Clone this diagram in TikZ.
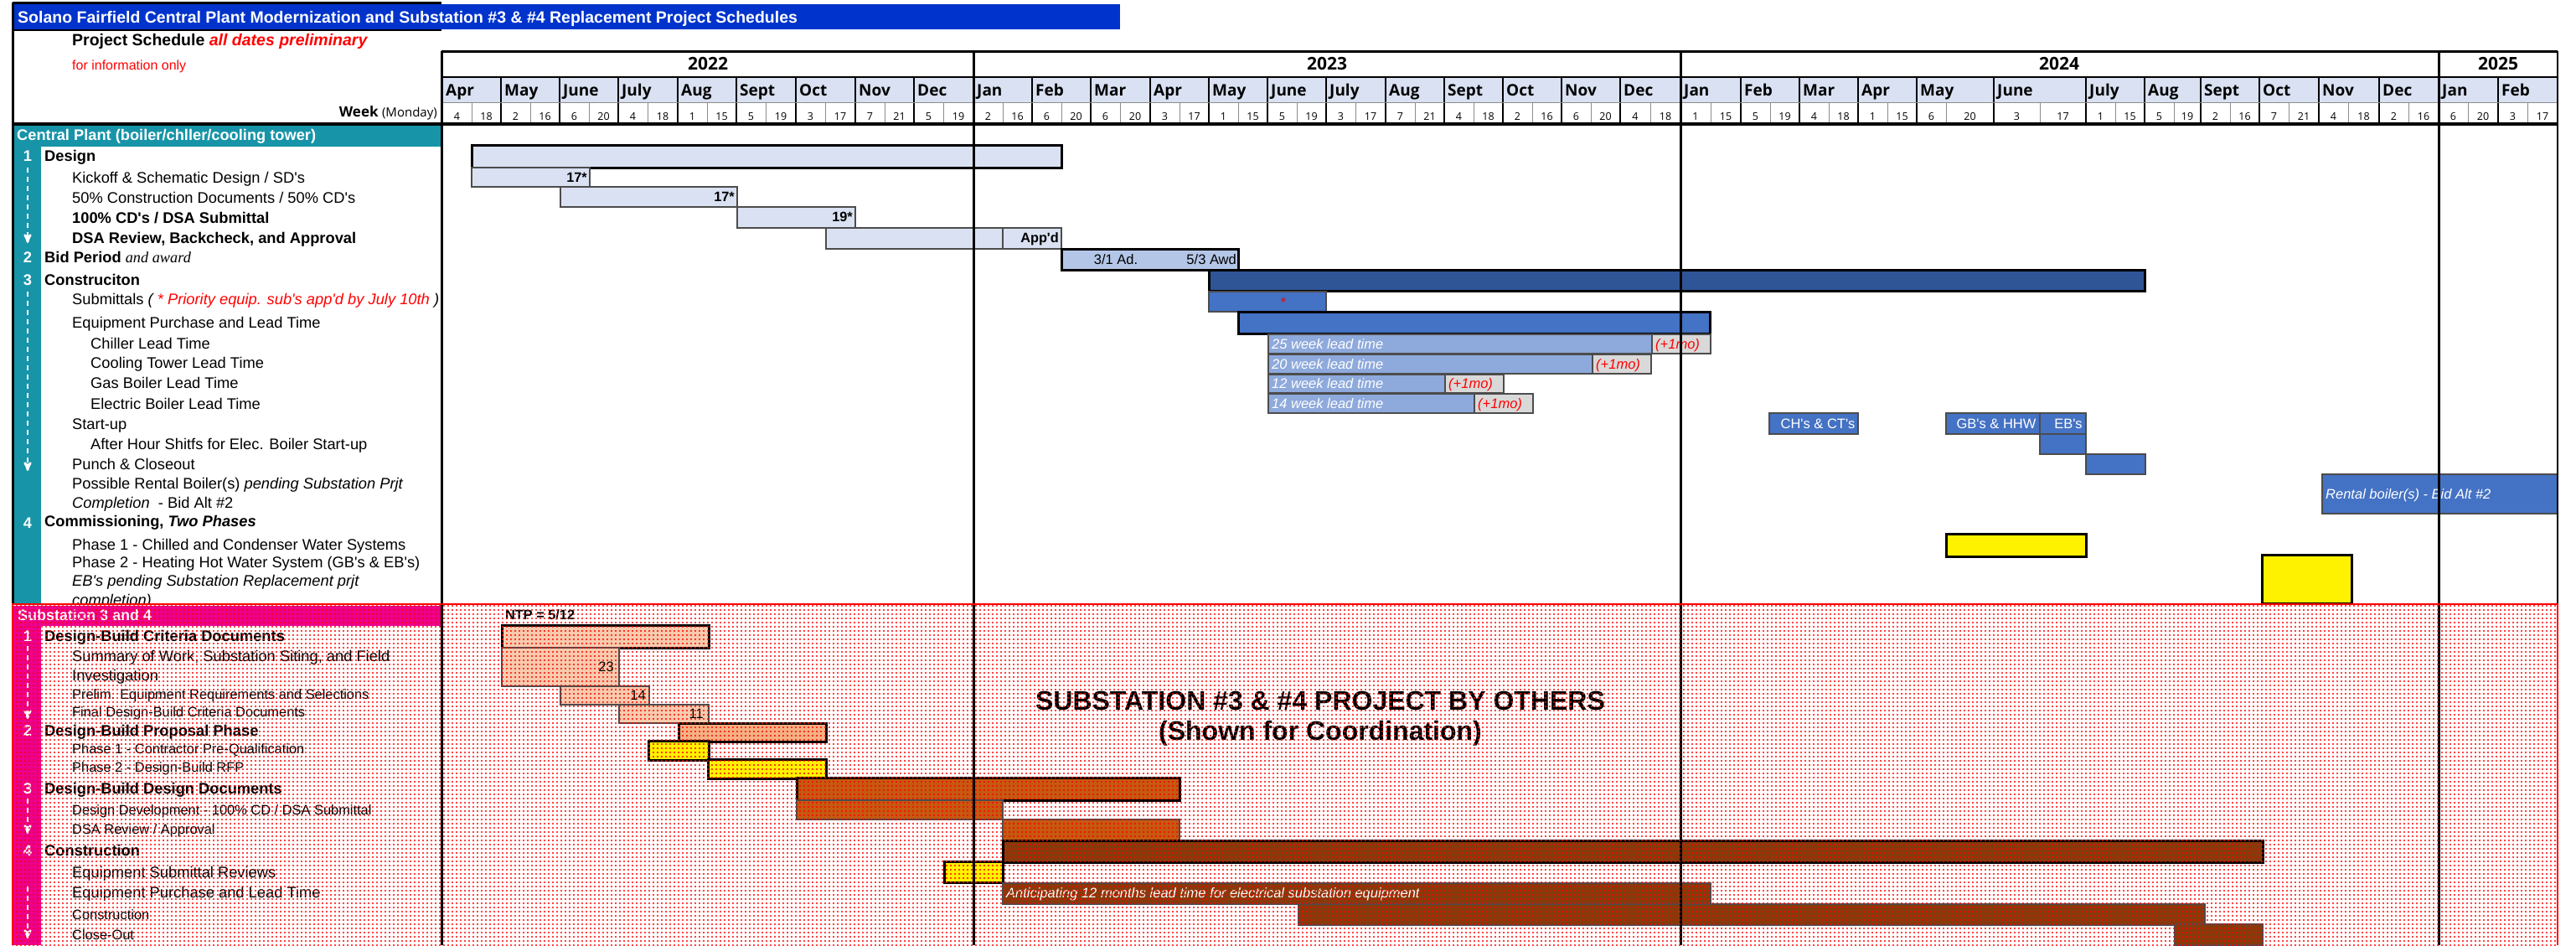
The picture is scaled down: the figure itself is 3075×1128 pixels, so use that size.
\documentclass[tikz,border=0pt]{standalone}
\usepackage{fontspec}
\usepackage{xcolor}
\usetikzlibrary{arrows, patterns}
\newfontfamily\arial{Liberation Sans}
\newfontfamily\hdr{Open Sans}
\newfontfamily\tnr{Liberation Serif}
\newcommand\fsz[1]{\fontsize{#1}{#1}\selectfont}

\definecolor{titleblue}{RGB}{0,51,204}
\definecolor{plantteal}{RGB}{23,148,168}
\definecolor{hdrlav}{RGB}{217,225,242}
\definecolor{bidblue}{RGB}{180,198,231}
\definecolor{darkblue}{RGB}{47,85,151}
\definecolor{midblue}{RGB}{68,114,196}
\definecolor{leadblue}{RGB}{142,169,219}
\definecolor{padgray}{RGB}{217,217,217}
\definecolor{salmonlt}{RGB}{248,203,173}
\definecolor{salmon}{RGB}{244,177,131}
\definecolor{burnt}{RGB}{197,90,17}
\definecolor{brownbar}{RGB}{132,60,12}

\pgfdeclarepatternformonly{reddots}{\pgfqpoint{-1.2pt}{-1.2pt}}{\pgfqpoint{1.2pt}{1.2pt}}{\pgfqpoint{5pt}{5pt}}{%
  \pgfpathcircle{\pgfpointorigin}{1.1pt}\pgfusepath{fill}}

\tikzset{
	every node/.style={inner sep=0pt, font=\arial},
	itemtx/.style={anchor=west, font=\arial\fsz{18.3}, text height=13pt, text depth=0pt},
	itembf/.style={itemtx, font=\arial\bfseries\fsz{18.3}},
	itemsm/.style={anchor=west, font=\arial\fsz{16.4}, text height=11.7pt, text depth=0pt},
	grouphd/.style={itembf},
	numtx/.style={font=\arial\bfseries\fsz{18.3}, text=white, text height=13pt, text depth=0pt},
	bartx/.style={font=\arial\fsz{16.5}, text height=11.8pt, text depth=0pt},
	barbf/.style={bartx, font=\arial\bfseries\fsz{16.3}},
	barit/.style={bartx, font=\arial\itshape\fsz{16.5}},
	sumbar/.style={draw=black, line width=3pt},
	taskbar/.style={draw=black!70, line width=1.2pt},
	yearline/.style={draw=black, line width=3pt},
	flow/.style={draw=white, line width=2.5pt, dash pattern=on 6pt off 5pt, -stealth'}}

\begin{document}
\begin{tikzpicture}[x=1pt, y=-1pt]
	\useasboundingbox (0,0) rectangle (3075,1128);
	\fill[white] (0,0) rectangle (3075,1128);

	% title block
	\fill[titleblue] (16,5) rectangle (1337,35);
	\node[anchor=west, font=\arial\bfseries\fsz{19.5}, text=white, text height=14pt, text depth=0pt] (title) at (21,20)
		{Solano Fairfield Central Plant Modernization and Substation \#3 \& \#4 Replacement Project Schedules};
	\node[anchor=west, font=\arial\bfseries\fsz{19.5}, text height=14pt, text depth=0pt] (sched) at (86,47)
		{Project Schedule \textcolor{red}{\itshape all dates preliminary}};
	\node[anchor=west, font=\arial\fsz{16}, text=red, text height=11.5pt, text depth=0pt] (info) at (86,78) {for information only};
	\node[anchor=east, font=\hdr\bfseries\fsz{17}, text height=12pt, text depth=0pt] (week) at (522,133)
		{Week {\mdseries\fsz{15}(Monday)}};

	% time scale
	\fill[hdrlav] (528,92) rectangle (3053,122);
	\foreach \xa/\xm/\xb/\mo/\wa/\wb in {528/563/598/Apr/4/18, 598/633/668/May/2/16, 668/703/738/June/6/20,
		738/773/809/July/4/18, 809/844/879/Aug/1/15, 879/914/950/Sept/5/19, 950/985/1021/Oct/3/17,
		1021/1056/1091/Nov/7/21, 1091/1126/1162/Dec/5/19, 1162/1197/1232/Jan/2/16, 1232/1267/1302/Feb/6/20,
		1302/1337/1373/Mar/6/20, 1373/1408/1443/Apr/3/17, 1443/1478/1513/May/1/15, 1513/1548/1583/June/5/19,
		1583/1618/1654/July/3/17, 1654/1689/1724/Aug/7/21, 1724/1759/1794/Sept/4/18, 1794/1829/1864/Oct/2/16,
		1864/1899/1934/Nov/6/20, 1934/1970/2006/Dec/4/18, 2006/2042/2078/Jan/1/15, 2078/2113/2148/Feb/5/19,
		2148/2183/2218/Mar/4/18, 2218/2253/2288/Apr/1/15, 2288/2323/2380/May/6/20, 2380/2435/2490/June/3/17,
		2490/2525/2560/July/1/15, 2560/2595/2627/Aug/5/19, 2627/2662/2697/Sept/2/16, 2697/2732/2768/Oct/7/21,
		2768/2803/2840/Nov/4/18, 2840/2875/2911/Dec/2/16, 2911/2946/2982/Jan/6/20, 2982/3017/3053/Feb/3/17}
	{
		\draw[line width=1.5pt] (\xa,92) -- (\xa,148);
		\draw[black!45, line width=0.8pt] (\xm,122) -- (\xm,148);
		\node[anchor=west, font=\hdr\bfseries\fsz{19}, text height=14pt, text depth=0pt] (mo-\xa) at (\xa+4,107.5) {\mo};
		\node[font=\hdr\fsz{12.5}, text height=9pt, text depth=0pt] (wa-\xa) at ({(\xa+\xm)/2},139) {\wa};
		\node[font=\hdr\fsz{12.5}, text height=9pt, text depth=0pt] (wb-\xa) at ({(\xm+\xb)/2},139) {\wb};
	}
	\draw[black!45, line width=0.8pt] (528,122) -- (3053,122);
	\draw[line width=3pt] (527,61) -- (3053,61);
	\draw[line width=2pt] (527,92) -- (3053,92);
	\foreach \yc/\yr in {845/2022, 1584/2023, 2458/2024, 2982/2025}
		\node[font=\hdr\bfseries\fsz{21}, text height=15pt, text depth=0pt] (yr-\yr) at (\yc,76) {\yr};

	% central plant
	\fill[plantteal] (16,150) rectangle (527,175);
	\fill[plantteal] (16,175) rectangle (49,721);
	\node[anchor=west, font=\arial\bfseries\fsz{18.25}, text=white, text height=13pt, text depth=0pt] (cp) at (20,161)
		{Central Plant (boiler/chller/cooling tower)};

	\node[numtx] (n1) at (33,186) {1};
	\node[numtx] (n2) at (33,307) {2};
	\node[numtx] (n3) at (33,334) {3};
	\node[numtx] (n4) at (33,624) {4};
	\coordinate (a1) at (33,290);
	\coordinate (a3) at (33,562);
	\draw[flow] ([yshift=-7pt]n1.south) -- (a1);
	\draw[flow] ([yshift=-7pt]n3.south) -- (a3);

	\node[grouphd] (d1) at (53,186) {Design};
	\node[itemtx] (d2) at (86,212) {Kickoff \& Schematic Design / SD's};
	\node[itemtx] (d3) at (86,236) {50\% Construction Documents / 50\% CD's};
	\node[itembf] (d4) at (86,260) {100\% CD's / DSA Submittal};
	\node[itembf] (d5) at (86,284) {DSA Review, Backcheck, and Approval};
	\node[grouphd] (b1) at (53,307) {Bid Period {\tnr\mdseries\itshape and award}};
	\node[grouphd] (c1) at (53,334) {Construciton};
	\node[itemtx] (c2) at (86,357) {Submittals {\itshape ( \textcolor{red}{* Priority equip. sub's app'd by July 10th} )}};
	\node[itemtx] (c3) at (86,385) {Equipment Purchase and Lead Time};
	\node[itemtx] (c4) at (108,410) {Chiller Lead Time};
	\node[itemtx] (c5) at (108,433) {Cooling Tower Lead Time};
	\node[itemtx] (c6) at (108,457) {Gas Boiler Lead Time};
	\node[itemtx] (c7) at (108,482) {Electric Boiler Lead Time};
	\node[itemtx] (c8) at (86,506) {Start-up};
	\node[itemtx] (c9) at (108,530) {After Hour Shitfs for Elec. Boiler Start-up};
	\node[itemtx] (c10) at (86,554) {Punch \& Closeout};
	\node[itemtx] (c11) at (86,577) {Possible Rental Boiler(s) \textit{pending Substation Prjt}};
	\node[itemtx] (c12) at (86,600) {\textit{Completion}\ \ - Bid Alt \#2};
	\node[grouphd] (m1) at (53,622) {Commissioning, \textit{Two Phases}};
	\node[itemtx] (m2) at (86,650) {Phase 1 - Chilled and Condenser Water Systems};
	\node[itemtx] (m3) at (86,671) {Phase 2 - Heating Hot Water System (GB's \& EB's)};
	\node[itemtx] (m4) at (86,693) {\textit{EB's pending Substation Replacement prjt}};
	\node[itemtx] (m5) at (86,716) {\textit{completion)}};

	% central plant bars
	\draw[sumbar, fill=hdrlav] (563,173) rectangle (1267,200);
	\draw[taskbar, fill=hdrlav] (563,200) rectangle (704,223);
	\draw[taskbar, fill=hdrlav] (669,223) rectangle (880,247);
	\draw[taskbar, fill=hdrlav] (880,247) rectangle (1021,272);
	\draw[taskbar, fill=hdrlav] (986,272) rectangle (1267,297);
	\draw[taskbar] (1197,272) -- (1197,297);
	\node[barbf, anchor=east] (k1) at (701,212) {17*};
	\node[barbf, anchor=east] (k2) at (877,235) {17*};
	\node[barbf, anchor=east] (k3) at (1018,259) {19*};
	\node[barbf, anchor=east] (k4) at (1264,284) {App'd};
	\draw[sumbar, fill=bidblue] (1267,297) rectangle (1478,322);
	\node[bartx] (ad) at (1332,310) {3/1 Ad.};
	\node[bartx, anchor=east] (awd) at (1476,310) {5/3 Awd};
	\draw[sumbar, fill=darkblue] (1443,322) rectangle (2560,347);
	\draw[taskbar, fill=midblue] (1443,348) rectangle (1583,372);
	\node[bartx, text=red] (star) at (1532,361) {*};
	\draw[sumbar, fill=midblue] (1478,372) rectangle (2041,398);
	\foreach \ya/\yb/\xe/\xp/\wk in {399/422/1972/2042/25, 423/446/1901/1971/20, 447/469/1725/1795/12, 470/493/1760/1830/14}
	{
		\draw[taskbar, fill=leadblue] (1514,\ya) rectangle (\xe,\yb);
		\draw[taskbar, fill=padgray] (\xe,\ya) rectangle (\xp,\yb);
		\node[barit, anchor=west, text=white] (lt-\wk) at (1518,{(\ya+\yb)/2}) {\wk\ week lead time};
		\node[barit, anchor=west, text=red] (mo-\wk) at (\xe+4,{(\ya+\yb)/2}) {(+1mo)};
	}
	\draw[taskbar, fill=midblue] (2112,493) rectangle (2218,518);
	\draw[taskbar, fill=midblue] (2323,493) rectangle (2435,518);
	\draw[taskbar, fill=midblue] (2435,493) rectangle (2490,518);
	\draw[taskbar, fill=midblue] (2435,518) rectangle (2490,542);
	\draw[taskbar, fill=midblue] (2490,542) rectangle (2561,566);
	\draw[taskbar, fill=midblue] (2772,566) rectangle (3053,613);
	\node[bartx, text=white] (chct) at (2170,506) {CH's \& CT's};
	\node[bartx, text=white] (gbhhw) at (2383,506) {GB's \& HHW};
	\node[bartx, text=white] (ebs) at (2469,506) {EB's};
	\node[barit, anchor=west, text=white] (rent) at (2776,590) {Rental boiler(s) - Bid Alt \#2};
	\draw[sumbar, fill=yellow] (2323,637) rectangle (2490,664);
	\draw[sumbar, fill=yellow] (2700,662) rectangle (2807,720);

	% substation 3 and 4
	\fill[white] (15,721) rectangle (3053,1128);
	\fill[magenta] (16,723) rectangle (527,747);
	\fill[magenta] (16,747) rectangle (49,1128);
	\node[anchor=west, font=\arial\bfseries\fsz{18}, text=white, text height=13pt, text depth=0pt] (ss) at (21,734) {Substation 3 and 4};

	\node[numtx] (n5) at (33,759) {1};
	\node[numtx] (n6) at (33,872) {2};
	\node[numtx] (n7) at (33,941) {3};
	\node[numtx] (n8) at (33,1015) {4};
	\coordinate (a5) at (33,858);
	\coordinate (a7) at (33,995);
	\coordinate (a8) at (33,1120);
	\draw[flow] ([yshift=-5pt]n5.south) -- (a5);
	\draw[flow] ([yshift=-5pt]n7.south) -- (a7);
	\draw[flow] ([yshift=-36pt]n8.south) -- (a8);

	\node[grouphd] (s1) at (53,759) {Design-Build Criteria Documents};
	\node[itemtx] (s2) at (86,783) {Summary of Work, Substation Siting, and Field};
	\node[itemtx] (s3) at (86,806) {Investigation};
	\node[itemsm] (s4) at (86,829) {Prelim. Equipment Requirements and Selections};
	\node[itemsm] (s5) at (86,850) {Final Design-Build Criteria Documents};
	\node[grouphd] (s6) at (53,872) {Design-Build Proposal Phase};
	\node[itemsm] (s7) at (86,894) {Phase 1 - Contractor Pre-Qualification};
	\node[itemsm] (s8) at (86,916) {Phase 2 - Design-Build RFP};
	\node[grouphd] (s9) at (53,941) {Design-Build Design Documents};
	\node[itemsm] (s10) at (86,967) {Design Development - 100\% CD / DSA Submittal};
	\node[itemsm] (s11) at (86,990) {DSA Review / Approval};
	\node[grouphd] (s12) at (53,1015) {Construction};
	\node[itemtx] (s13) at (86,1041) {Equipment Submittal Reviews};
	\node[itemtx] (s14) at (86,1065) {Equipment Purchase and Lead Time};
	\node[itemsm] (s15) at (86,1092) {Construction};
	\node[itemsm] (s16) at (86,1116) {Close-Out};

	% substation bars
	\node[barbf, anchor=west] (ntp) at (603,734) {NTP = 5/12};
	\draw[sumbar, fill=salmonlt] (599,746) rectangle (846,773);
	\draw[taskbar, fill=salmonlt] (599,773) rectangle (739,819);
	\draw[taskbar, fill=salmonlt] (669,819) rectangle (775,841);
	\draw[taskbar, fill=salmonlt] (739,841) rectangle (846,863);
	\node[bartx, anchor=east] (w23) at (733,796) {23};
	\node[bartx, anchor=east] (w14) at (771,830) {14};
	\node[bartx, anchor=east] (w11) at (840,852) {11};
	\draw[sumbar, fill=salmon] (810,863) rectangle (986,885);
	\draw[sumbar, fill=yellow] (774,884) rectangle (846,907);
	\draw[sumbar, fill=yellow] (845,906) rectangle (986,929);
	\draw[sumbar, fill=burnt] (951,928) rectangle (1408,955);
	\draw[taskbar, fill=burnt] (951,955) rectangle (1197,978);
	\draw[taskbar, fill=burnt] (1197,978) rectangle (1408,1003);
	\draw[sumbar, fill=brownbar] (1197,1003) rectangle (2701,1029);
	\draw[sumbar, fill=yellow] (1127,1028) rectangle (1197,1053);
	\draw[taskbar, fill=brownbar] (1197,1054) rectangle (2042,1079);
	\draw[taskbar, fill=brownbar] (1550,1079) rectangle (2632,1104);
	\draw[taskbar, fill=brownbar] (2596,1103) rectangle (2701,1128);
	\node[barit, anchor=west, text=white] (lead) at (1201,1066)
		{Anticipating 12 months lead time for electrical substation equipment};
	\node[font=\arial\bfseries\fsz{32}, text height=23pt, text depth=0pt] (others) at (1576,836) {SUBSTATION \#3 \& \#4 PROJECT BY OTHERS};
	\node[font=\arial\bfseries\fsz{32}, text height=23pt, text depth=0pt] (coord) at (1576,872) {(Shown for Coordination)};

	% frame and year lines
	\draw[line width=3pt] (15,3) -- (527,3);
	\draw[line width=2.5pt] (15,36) -- (527,36);
	\draw[line width=3pt] (15,3) -- (15,721);
	\draw[line width=3pt] (527,61) -- (527,1128);
	\draw[line width=2.5pt] (3053,61) -- (3053,721);
	\draw[line width=3.5pt] (15,148) -- (3053,148);
	\foreach \xy in {1162, 2006, 2911}
		\draw[yearline] (\xy,61) -- (\xy,1128);

	% dotted overlay
	\fill[pattern=reddots, pattern color=red] (15,721) rectangle (3053,1128);
	\draw[red, line width=2.5pt] (15,1128) -- (15,721) -- (3053,721) -- (3053,1128);
\end{tikzpicture}
\end{document}
